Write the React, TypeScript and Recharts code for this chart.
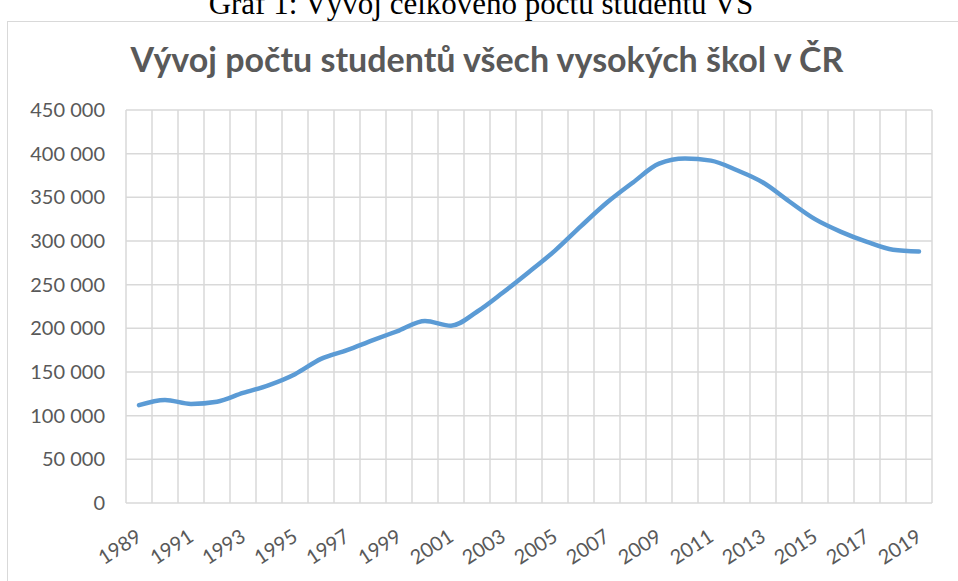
import { LineChart, Line, XAxis, YAxis, CartesianGrid } from "recharts";

const years = [
  "1989", "1990", "1991", "1992", "1993", "1994", "1995", "1996", "1997", "1998",
  "1999", "2000", "2001", "2002", "2003", "2004", "2005", "2006", "2007", "2008",
  "2009", "2010", "2011", "2012", "2013", "2014", "2015", "2016", "2017", "2018", "2019",
];

const students = [
  112000, 118000, 113500, 116000, 126000, 135000, 147500, 165000, 175000, 186500,
  197500, 208500, 203000, 219000, 241000, 264500, 289000, 317000, 344000, 367000,
  388500, 394500, 392000, 381000, 367000, 345500, 325000, 310500, 299000, 290000, 288000,
];

const yTicks = [0, 50000, 100000, 150000, 200000, 250000, 300000, 350000, 400000, 450000];

const caption = "Graf 1: Vývoj celkového počtu studentů VŠ";
const title = "Vývoj počtu studentů všech vysokých škol v ČR";

const data = years.map((year, i) => ({ year, students: students[i] }));

const TEXT = "#595959";
const GRID = "#d9d9d9";
const FONT = "Lato, Carlito, sans-serif";

const fmt = (v: number) => String(v).replace(/\B(?=(\d{3})+(?!\d))/g, " ");

function XTick({ x, y, payload }: any) {
  return (
    <g transform={`translate(${x + 4},${y + 37})`}>
      <text x={0} y={0} textAnchor="end" transform="rotate(-33)" fill={TEXT} fontSize={20} fontFamily={FONT}>
        {payload.value}
      </text>
    </g>
  );
}

export default function App() {
  return (
    <div style={{ position: "absolute", top: 0, left: 0, width: 958, height: 581, overflow: "hidden", background: "#fff" }}>
      <div
        style={{
          position: "absolute",
          left: 7,
          top: 21,
          width: 980,
          height: 620,
          border: `1.5px solid ${GRID}`,
          boxSizing: "border-box",
        }}
      />
      <div style={{ position: "absolute", left: 0, top: 0 }}>
        <LineChart width={958} height={581} data={data} margin={{ top: 110, right: 26, bottom: 0, left: 0 }}>
          <CartesianGrid
            stroke={GRID}
            strokeWidth={1.5}
            verticalCoordinatesGenerator={({ offset }: any) =>
              Array.from({ length: years.length + 1 }, (_, i) => offset.left + (i * offset.width) / years.length)
            }
          />
          <XAxis
            dataKey="year"
            interval={1}
            height={78}
            tickLine={false}
            axisLine={false}
            tickSize={0}
            tickMargin={0}
            padding={{ left: 13, right: 13 }}
            tick={<XTick />}
          />
          <YAxis
            width={126}
            domain={[0, 450000]}
            ticks={yTicks}
            tickLine={false}
            axisLine={false}
            tickSize={0}
            tickMargin={21}
            tickFormatter={fmt}
            tick={{ fill: TEXT, fontSize: 20, fontFamily: FONT }}
          />
          <Line
            type="monotone"
            dataKey="students"
            stroke="#5b9bd5"
            strokeWidth={4.5}
            strokeLinecap="round"
            dot={false}
            isAnimationActive={false}
          />
        </LineChart>
      </div>
      <svg width={958} height={100} style={{ position: "absolute", left: 0, top: 0, pointerEvents: "none" }}>
        <text x={481} y={14} textAnchor="middle" fontSize={31} fontFamily="'Liberation Serif', 'Times New Roman', serif" fill="#000">
          {caption}
        </text>
        <text x={487} y={72} textAnchor="middle" fontSize={34} fontWeight="bold" fontFamily={FONT} fill={TEXT}>
          {title}
        </text>
      </svg>
    </div>
  );
}
